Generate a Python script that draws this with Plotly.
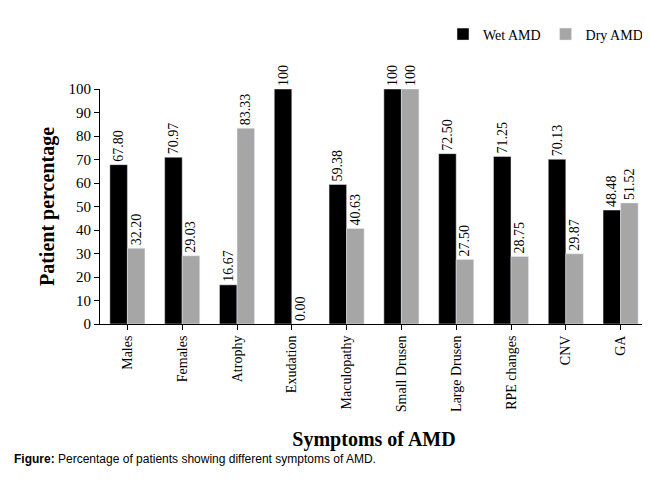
import plotly.graph_objects as go

categories = ["Males","Females","Atrophy","Exudation","Maculopathy","Small Drusen","Large Drusen","RPE changes","CNV","GA"]
wet = [67.80,70.97,16.67,100,59.38,100,72.50,71.25,70.13,48.48]
dry = [32.20,29.03,83.33,0.00,40.63,100,27.50,28.75,29.87,51.52]
wet_labels = ["67.80","70.97","16.67","100","59.38","100","72.50","71.25","70.13","48.48"]
dry_labels = ["32.20","29.03","83.33","0.00","40.63","100","27.50","28.75","29.87","51.52"]

font = dict(family="Liberation Serif", color="black")
fig = go.Figure()
fig.add_bar(x=categories, y=wet, name="Wet AMD", marker_color="black",
            text=wet_labels, textposition="outside", textangle=-90,
            textfont=dict(size=14, **font), cliponaxis=False)
fig.add_bar(x=categories, y=dry, name="Dry AMD", marker_color="#a6a6a6",
            text=dry_labels, textposition="outside", textangle=-90,
            textfont=dict(size=14, **font), cliponaxis=False)
fig.update_layout(
    width=650, height=488, paper_bgcolor="white", plot_bgcolor="white",
    font=dict(family="Liberation Serif", size=14, color="black"),
    margin=dict(l=92, r=10, t=68, b=172),
    bargap=0.36, bargroupgap=0,
    uniformtext=dict(minsize=14, mode="show"),
    legend=dict(orientation="h", x=1, xanchor="right", y=1.3, yanchor="top",
                font=dict(size=14), traceorder="normal"),
    xaxis=dict(tickangle=-90, showline=True, linecolor="black", ticks="outside",
               tickcolor="black", tickfont=dict(size=14),
               title=dict(text="<b>Symptoms of AMD</b>", font=dict(size=20), standoff=20)),
    yaxis=dict(range=[0,100], dtick=10, showline=True, linecolor="black", ticks="outside",
               tickcolor="black", showgrid=False, tickfont=dict(size=15),
               title=dict(text="<b>Patient percentage</b>", font=dict(size=20), standoff=8)),
    annotations=[dict(text="<b>Figure:</b> Percentage of patients showing different symptoms of AMD.",
                      xref="paper", yref="paper", x=-0.16, y=-0.535, xanchor="left", yanchor="top",
                      showarrow=False, font=dict(family="Liberation Sans Narrow, Liberation Sans", size=12))]
)
fig.write_html("out.html")
